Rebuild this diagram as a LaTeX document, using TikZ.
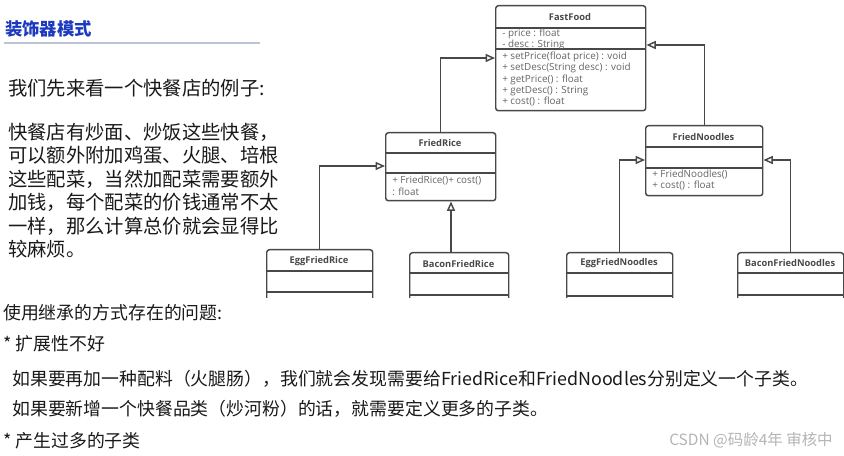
\documentclass[tikz,border=0pt]{standalone}
\usepackage{fontspec}
\setmainfont{Noto Sans CJK SC}
\newfontfamily\umlfont{Open Sans}
\usetikzlibrary{arrows.meta}
\definecolor{titleblue}{RGB}{28,58,190}
\definecolor{rulegray}{RGB}{185,196,214}
\definecolor{linegray}{RGB}{72,72,72}
\definecolor{umltext}{RGB}{100,100,100}
\definecolor{wmark}{RGB}{180,180,180}
\begin{document}
\begin{tikzpicture}[x=0.75pt,y=-0.75pt,
  cls/.style={draw=linegray,line width=1.1pt,rounded corners=2pt,anchor=north west,inner sep=0pt},
  sep/.style={draw=linegray,line width=1.1pt},
  ctitle/.style={font=\umlfont\bfseries\fontsize{7}{8}\selectfont,text=linegray,inner sep=0pt},
  member/.style={font=\umlfont\fontsize{7.4}{8.5}\selectfont,text=umltext,anchor=west,inner sep=0pt},
  inh/.style={draw=linegray,line width=1.1pt,-{Triangle[open,length=7pt,width=6pt]}},
  big/.style={font=\fontsize{14.5}{17}\selectfont,text=black!90,anchor=west,inner sep=0pt},
  small/.style={font=\fontsize{13.4}{15}\selectfont,text=black!90,anchor=west,inner sep=0pt}]
\useasboundingbox (0,0) rectangle (844,456);
\node[font=\bfseries\fontsize{13}{15}\selectfont,text=titleblue,anchor=west,inner sep=0pt] (title) at (5,29) {装饰器模式};
\draw[rulegray,line width=1.5pt] (4,43) -- (260,43);
\node[big] (intro) at (8,88) {我们先来看一个快餐店的例子:};
\foreach \lbl[count=\cnt] in {快餐店有炒面、炒饭这些快餐，,可以额外附加鸡蛋、火腿、培根,这些配菜，当然加配菜需要额外,加钱，每个配菜的价钱通常不太,一样，那么计算总价就会显得比,较麻烦。}
  \node[big] (para\cnt) at (8,108.5+23.5*\cnt) {\lbl};
\node[small] (issue) at (3,313) {使用继承的方式存在的问题:};
\node[small] (star1) at (3,344) {* 扩展性不好};
\node[small] (why1) at (12,379) {如果要再加一种配料（火腿肠），我们就会发现需要给FriedRice和FriedNoodles分别定义一个子类。};
\node[small] (why2) at (12,409) {如果要新增一个快餐品类（炒河粉）的话，就需要定义更多的子类。};
\node[small] (star2) at (3,441) {* 产生过多的子类};
\node[font=\fontsize{11.6}{13}\selectfont,text=wmark,anchor=west,inner sep=0pt] (csdn) at (669,440) {CSDN @码龄4年 审核中};

\node[cls,minimum width=112.5pt,minimum height=78.75pt] (ff) at (495,5) {};
\node[ctitle] (fft) at (570,17) {FastFood};
\draw[sep] (ff.west |- 0,28) -- (ff.east |- 0,28);
\draw[sep] (ff.west |- 0,49) -- (ff.east |- 0,49);
\foreach \lbl[count=\cnt] in {- price : float,- desc : String}
  \node[member] (ffa\cnt) at (502,23+11*\cnt) {\lbl};
\foreach \lbl[count=\cnt] in {+ setPrice(float price) : void,+ setDesc(String desc) : void,+ getPrice() : float,+ getDesc() : String,+ cost() : float}
  \node[member] (ffm\cnt) at (502,45.75+11.25*\cnt) {\lbl};

\node[cls,minimum width=82.5pt,minimum height=51pt] (fr) at (385,132) {};
\node[ctitle] (frt) at (440,143) {FriedRice};
\draw[sep] (fr.west |- 0,153) -- (fr.east |- 0,153);
\draw[sep] (fr.west |- 0,173) -- (fr.east |- 0,173);
\node[member] (frm1) at (392,181) {+ FriedRice()+ cost()}; \node[member] (frm2) at (392,192) {: float};

\node[cls,minimum width=87.75pt,minimum height=52.5pt] (fn) at (645,125) {};
\node[ctitle] (fnt) at (703.5,137) {FriedNoodles};
\draw[sep] (fn.west |- 0,147) -- (fn.east |- 0,147);
\draw[sep] (fn.west |- 0,168) -- (fn.east |- 0,168);
\node[member] (fnm1) at (652,175) {+ FriedNoodles()}; \node[member] (fnm2) at (652,186) {+ cost() : float};

\begin{scope}
\clip (0,0) rectangle (844,298);
\node[cls,minimum width=79.5pt,minimum height=60pt] (efr) at (266,249) {};
\draw[sep] (efr.west |- 0,271) -- (efr.east |- 0,271);
\draw[sep] (efr.west |- 0,292) -- (efr.east |- 0,292);
\node[cls,minimum width=74.25pt,minimum height=60pt] (bfr) at (409,252) {};
\draw[sep] (bfr.west |- 0,273) -- (bfr.east |- 0,273);
\draw[sep] (bfr.west |- 0,295) -- (bfr.east |- 0,295);
\node[cls,minimum width=79.5pt,minimum height=60pt] (efn) at (566,252) {};
\draw[sep] (efn.west |- 0,273) -- (efn.east |- 0,273);
\draw[sep] (efn.west |- 0,296) -- (efn.east |- 0,296);
\node[cls,minimum width=79.5pt,minimum height=60pt] (bfn) at (737,252) {};
\draw[sep] (bfn.west |- 0,273) -- (bfn.east |- 0,273);
\draw[sep] (bfn.west |- 0,295) -- (bfn.east |- 0,295);
\end{scope}
\node[ctitle] (efrt) at (319,261) {EggFriedRice};
\node[ctitle] (bfrt) at (458.5,264) {BaconFriedRice};
\node[ctitle] (efnt) at (619,263) {EggFriedNoodles};
\node[ctitle] (bfnt) at (790,263) {BaconFriedNoodles};

\draw[inh] (fr.north) |- (ff.west |- 0,58);
\draw[inh] (fn.north) |- (ff.east |- 0,45);
\draw[inh] (efr.north) |- (fr.west |- 0,166);
\draw[inh] (bfr.north -| 451,0) -- (fr.south -| 451,0);
\draw[inh] (efn.north) |- (fn.west |- 0,160);
\draw[inh] (bfn.north) |- (fn.east |- 0,160);
\end{tikzpicture}
\end{document}
